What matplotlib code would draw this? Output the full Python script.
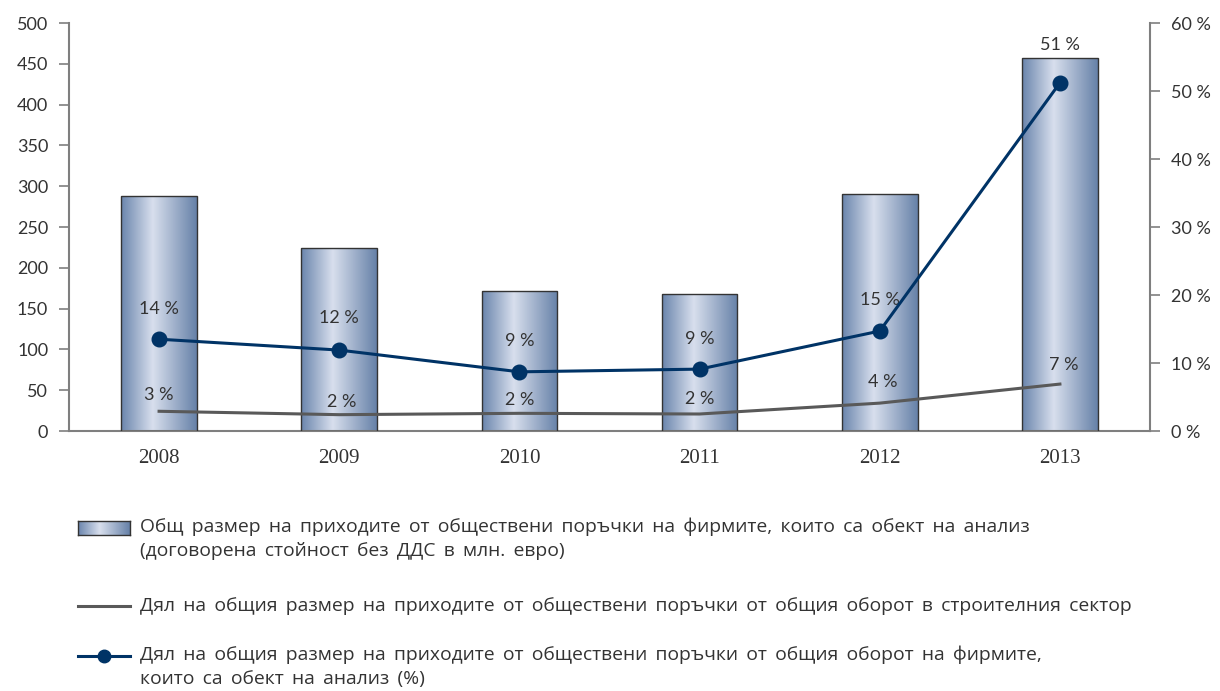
import matplotlib
matplotlib.use("Agg")
import matplotlib.pyplot as plt
import numpy as np
from matplotlib.colors import LinearSegmentedColormap
from matplotlib.lines import Line2D

years = ["2008", "2009", "2010", "2011", "2012", "2013"]
revenue = [288, 224, 171, 168, 290, 457]          # млн. евро
share_firms = [13.5, 11.9, 8.7, 9.1, 14.7, 51.2]  # %
share_firms_lbl = ["14 %", "12 %", "9 %", "9 %", "15 %", "51 %"]
share_sector = [2.9, 2.4, 2.6, 2.5, 4.1, 6.9]     # %
share_sector_lbl = ["3 %", "2 %", "2 %", "2 %", "4 %", "7 %"]
left_ticks = [0, 50, 100, 150, 200, 250, 300, 350, 400, 450, 500]
right_ticks = [0, 10, 20, 30, 40, 50, 60]

leg1 = "Общ размер на приходите от обществени поръчки на фирмите, които са обект на анализ\n(договорена стойност без ДДС в млн. евро)"
leg2 = "Дял на общия размер на приходите от обществени поръчки от общия оборот в строителния сектор"
leg3 = "Дял на общия размер на приходите от обществени поръчки от общия оборот на фирмите,\nкоито са обект на анализ (%)"

FONT = "Lato"
LFONT = "Open Sans"
TXT = "#333333"
BLUE = "#003366"
GRAY = "#595959"
AX = "#7f7f7f"

fig = plt.figure(figsize=(12.2, 6.91), dpi=100)
ax = fig.add_axes([69/1220, 1-431/691, (1150-69)/1220, (431-23)/691])
ax2 = ax.twinx()

cmap = LinearSegmentedColormap.from_list("bar", [
    (0.0, "#6a85ad"), (0.42, "#d8dfed"), (1.0, "#6681a8")])
grad = np.linspace(0, 1, 256).reshape(1, -1)

x = np.arange(len(years))
w = 0.42
bars = ax.bar(x, revenue, width=w, color="none", edgecolor="#333333", linewidth=1.0, zorder=3)
for b in bars:
    x0, y0 = b.get_x(), b.get_y()
    im = ax.imshow(grad, cmap=cmap, aspect="auto",
                   extent=[x0, x0 + b.get_width(), y0, y0 + b.get_height()], zorder=2)
    im.set_clip_path(b)
ax.set_aspect("auto")
ax.set_xlim(-0.5, len(years) - 0.5)
ax.set_ylim(0, 500)

ax2.set_ylim(0, 60)
ax2.plot(x, share_sector, color=GRAY, lw=2.2, zorder=4)
ax2.plot(x, share_firms, color=BLUE, lw=2.2, marker="o", ms=10.5, zorder=5)

firm_off = [22, 23, 22, 22, 22, 27]
for xi, v, lbl, off in zip(x, share_firms, share_firms_lbl, firm_off):
    ax2.annotate(lbl, (xi, v), xytext=(0, off), textcoords="offset points",
                 ha="center", va="center", fontsize=13, color=TXT, family=FONT)
sec_off = [11.5, 9, 9.5, 11, 15, 14]
sec_dx = [0, 2, 0, 0, 2, 3]
for xi, v, lbl, off, dx in zip(x, share_sector, share_sector_lbl, sec_off, sec_dx):
    ax2.annotate(lbl, (xi, v), xytext=(dx, off), textcoords="offset points",
                 ha="center", va="center", fontsize=13, color=TXT, family=FONT)

ax.set_yticks(left_ticks)
ax.set_yticklabels([str(t) for t in left_ticks], family=FONT, fontsize=13, color=TXT)
ax2.set_yticks(right_ticks)
ax2.set_yticklabels([f"{t} %" for t in right_ticks], family=FONT, fontsize=13, color=TXT)
ax.set_xticks(x)
ax.set_xticklabels(years, family="Liberation Serif", fontsize=15, color=TXT)
ax.tick_params(axis="x", length=0, pad=13)
ax.tick_params(axis="y", length=7, width=1.2, color=AX, pad=8)
ax2.tick_params(axis="y", length=7, width=1.2, color=AX, pad=8)

for a in (ax, ax2):
    a.spines["top"].set_visible(False)
    for s in ("left", "right", "bottom"):
        a.spines[s].set_color(AX)
        a.spines[s].set_linewidth(1.5)
ax.spines["right"].set_visible(False)
ax2.spines["left"].set_visible(False)
ax2.spines["bottom"].set_visible(False)

# legend
def fy(py):
    return 1 - py / 691
def fx(px):
    return px / 1220

lax = fig.add_axes([fx(78), fy(535), fx(52), 14/691])
lax.imshow(grad, cmap=cmap, aspect="auto", extent=[0, 1, 0, 1])
lax.set_xlim(0, 1); lax.set_ylim(0, 1)
lax.set_xticks([]); lax.set_yticks([])
for s in lax.spines.values():
    s.set_color("#333333"); s.set_linewidth(1.0)

fig.add_artist(Line2D([fx(78), fx(130)], [fy(606), fy(606)], color=GRAY, lw=2.2))
fig.add_artist(Line2D([fx(78), fx(130)], [fy(656), fy(656)], color=BLUE, lw=2.2))
fig.add_artist(Line2D([fx(104)], [fy(656)], color=BLUE, marker="o", ms=9))

def wide(s):
    return s.replace(" ", " \u2009")

LS = 13.9
fig.text(fx(140), fy(518), wide(leg1), family=LFONT, fontsize=LS, color=TXT, va="top",
         linespacing=1.4)
fig.text(fx(140), fy(606), wide(leg2), family=LFONT, fontsize=LS, color=TXT, va="center")
fig.text(fx(140), fy(646), wide(leg3), family=LFONT, fontsize=LS, color=TXT, va="top",
         linespacing=1.4)

fig.savefig("out.png", dpi=100)
